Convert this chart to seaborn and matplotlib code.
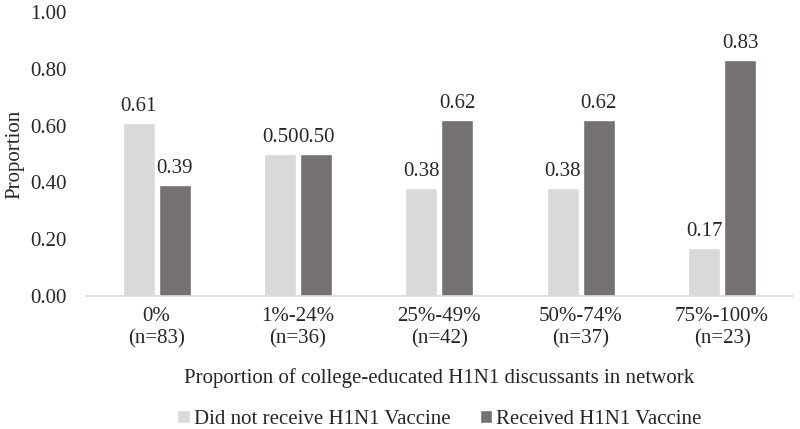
import matplotlib
matplotlib.use("Agg")
import matplotlib.pyplot as plt
import seaborn as sns
import pandas as pd

categories = ["0%\n(n=83)", "1%-24%\n(n=36)", "25%-49%\n(n=42)", "50%-74%\n(n=37)", "75%-100%\n(n=23)"]
not_received = [0.61, 0.50, 0.38, 0.38, 0.17]
received = [0.39, 0.50, 0.62, 0.62, 0.83]
series = ["Did not receive H1N1 Vaccine", "Received H1N1 Vaccine"]
colors = ["#d9d9d9", "#767171"]

df = pd.DataFrame({
    "cat": categories * 2,
    "value": not_received + received,
    "group": [series[0]] * len(categories) + [series[1]] * len(categories),
})

sns.set_style("white")
plt.rcParams["font.family"] = ["Liberation Serif", "DejaVu Serif"]
fs = 15

fig = plt.figure(figsize=(8, 4.29), dpi=100)
ax = fig.add_axes([0.1075, 0.31, 0.8835, 0.662])

sns.barplot(data=df, x="cat", y="value", hue="group", palette=colors,
            width=0.51, gap=0.11, ax=ax, saturation=1, legend=True)

for cont in ax.containers:
    ax.bar_label(cont, fmt="%.2f", padding=5, fontsize=fs)

ax.set_ylim(0, 1.0)
ax.set_xlim(-0.5, 4.5)
ax.set_yticks([0, 0.2, 0.4, 0.6, 0.8, 1.0])
ax.set_yticklabels(["%.2f" % v for v in [0, 0.2, 0.4, 0.6, 0.8, 1.0]])
ax.tick_params(axis="y", labelsize=fs, length=0, pad=14)
ax.tick_params(axis="x", labelsize=fs, length=0, pad=8)
ax.set_ylabel("Proportion", fontsize=fs, labelpad=4)
ax.set_xlabel("Proportion of college-educated H1N1 discussants in network", fontsize=fs, labelpad=14)

for s in ["top", "right", "left"]:
    ax.spines[s].set_visible(False)
ax.spines["bottom"].set_color("#d9d9d9")
ax.spines["bottom"].set_linewidth(1.2)

handles, labels = ax.get_legend_handles_labels()
ax.legend(handles, labels, loc="upper center", bbox_to_anchor=(0.50, -0.335), ncol=2,
          frameon=False, fontsize=fs, handlelength=0.6, handleheight=0.6,
          handletextpad=0.2, columnspacing=1.4)

fig.savefig("out.png", dpi=100)
